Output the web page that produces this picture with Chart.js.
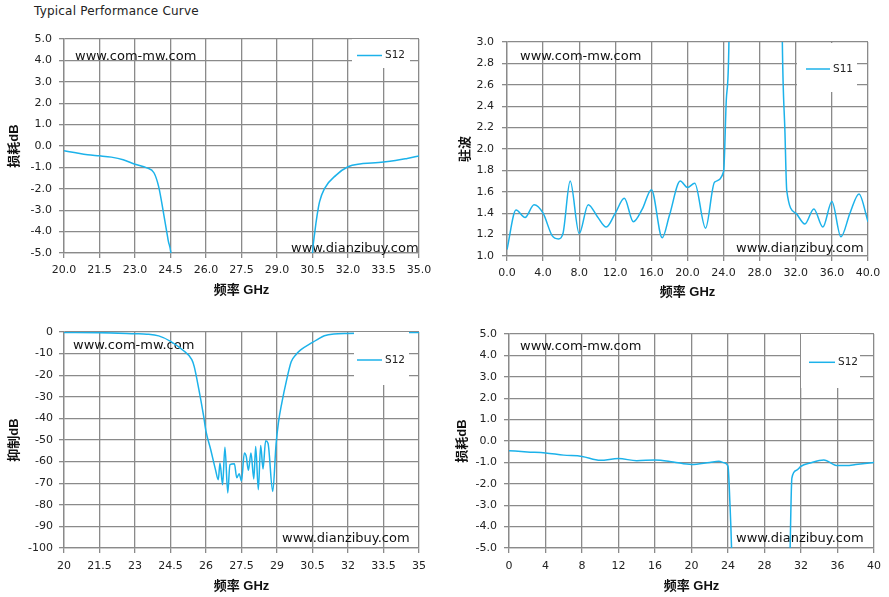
<!DOCTYPE html>
<html>
<head>
<meta charset="utf-8">
<script src="https://cdn.jsdelivr.net/npm/chart.js@4/dist/chart.umd.min.js"></script>
<style>
  body { margin: 0; background: #fff; width: 889px; height: 597px; position: relative; overflow: hidden; }
  canvas { position: absolute; }
  #title { position: absolute; left: 34px; top: 4px; font: 12px "DejaVu Sans", sans-serif; color: #222; letter-spacing: 0.2px; }
</style>
</head>
<body>
<div id="title">Typical Performance Curve</div>
<canvas id="c1" width="440" height="270" style="left:0;top:30px"></canvas>
<canvas id="c2" width="444" height="270" style="left:445px;top:30px"></canvas>
<canvas id="c3" width="440" height="297" style="left:0;top:300px"></canvas>
<canvas id="c4" width="444" height="297" style="left:445px;top:300px"></canvas>
<script>
// --- data ---
// top-left: S12 loss, 20-35 GHz
const lossAFreq = [20.0, 20.5, 21.0, 21.5, 22.0, 22.5, 23.0, 23.5, 23.8, 24.0, 24.2, 24.4, 24.55, 24.8, 30.2, 30.5, 30.6, 30.7, 30.8, 31.0, 31.5, 32.0, 32.5, 33.0, 33.5, 34.0, 34.5, 35.0];
const lossAS12  = [-0.22, -0.32, -0.41, -0.46, -0.52, -0.64, -0.85, -1.02, -1.25, -1.9, -3.1, -4.4, -5.4, -12, -12, -5.0, -4.0, -3.2, -2.6, -2.0, -1.36, -0.97, -0.84, -0.8, -0.75, -0.68, -0.58, -0.47];
const lossAXTicks = ['20.0', '21.5', '23.0', '24.5', '26.0', '27.5', '29.0', '30.5', '32.0', '33.5', '35.0'];
const lossAYTicks = ['-5.0', '-4.0', '-3.0', '-2.0', '-1.0', '0.0', '1.0', '2.0', '3.0', '4.0', '5.0'];

// top-right: S11 VSWR, 0-40 GHz
const vswrFreq = [0, 1, 2, 3, 4, 5, 5.7, 6.2, 7, 8, 9, 10, 11, 12, 13, 14, 15, 16, 17.2, 18, 19.2, 20, 20.8, 22, 23, 24, 24.3, 24.6, 25, 30, 30.5, 30.8, 31, 32, 33, 34, 35, 36, 37, 38, 39, 40];
const vswrS11  = [1.06, 1.43, 1.36, 1.48, 1.40, 1.19, 1.16, 1.21, 1.70, 1.21, 1.48, 1.37, 1.27, 1.40, 1.54, 1.32, 1.44, 1.62, 1.17, 1.38, 1.70, 1.64, 1.68, 1.26, 1.69, 1.79, 2.46, 3.05, 8, 8, 3.05, 2.15, 1.61, 1.40, 1.30, 1.44, 1.27, 1.51, 1.18, 1.40, 1.58, 1.32];
const vswrXTicks = ['0.0', '4.0', '8.0', '12.0', '16.0', '20.0', '24.0', '28.0', '32.0', '36.0', '40.0'];
const vswrYTicks = ['1.0', '1.2', '1.4', '1.6', '1.8', '2.0', '2.2', '2.4', '2.6', '2.8', '3.0'];

// bottom-left: S12 rejection, 20-35 GHz
const rejFreq = [20, 21.5, 23, 23.5, 24, 24.5, 25, 25.4, 25.5, 25.7, 25.9, 26.0, 26.2, 26.4, 26.52, 26.59, 26.7, 26.8, 26.92, 27.01, 27.2, 27.3, 27.4, 27.5, 27.62, 27.7, 27.79, 27.9, 28.02, 28.1, 28.21, 28.31, 28.41, 28.52, 28.62, 28.82, 28.96, 29.06, 29.2, 29.4, 29.6, 29.8, 30.0, 30.5, 30.7, 31.0, 31.4, 32.0, 33.5, 35];
const rejS12  = [-0.2, -0.3, -0.8, -1.0, -1.8, -4.3, -8.2, -12.8, -15.9, -26.7, -39, -46, -54.5, -63.7, -68.4, -60.6, -70.7, -53.3, -74.5, -61.4, -61, -67.5, -65.6, -69, -56, -57.6, -64, -56, -68, -53, -73, -52.5, -63.4, -50.4, -51.5, -73.8, -52, -42, -33, -22.5, -13.8, -10.5, -8.3, -4.8, -3.5, -1.7, -0.9, -0.7, -0.4, -0.2];
const rejXTicks = ['20', '21.5', '23', '24.5', '26', '27.5', '29', '30.5', '32', '33.5', '35'];
const rejYTicks = ['-100', '-90', '-80', '-70', '-60', '-50', '-40', '-30', '-20', '-10', '0'];

// bottom-right: S12 loss, 0-40 GHz
const lossBFreq = [0, 2, 4, 6, 8, 10, 12, 14, 16, 18, 20, 22, 23, 23.6, 24, 24.2, 24.4, 24.6, 30.6, 30.8, 31, 31.5, 32, 33, 34.5, 36, 37, 38, 40];
const lossBS12  = [-0.45, -0.51, -0.56, -0.66, -0.72, -0.9, -0.82, -0.92, -0.89, -0.98, -1.1, -1.0, -0.95, -1.02, -1.18, -2.8, -5.2, -10, -10, -5.2, -1.73, -1.37, -1.18, -1.03, -0.89, -1.15, -1.15, -1.1, -1.0];
const lossBXTicks = ['0', '4', '8', '12', '16', '20', '24', '28', '32', '36', '40'];
const lossBYTicks = lossAYTicks;

const LINE = '#1cb2ea';
const GRID = '#8a8a8a';
const TXT = '#222';
const TICK_FONT = { family: '"DejaVu Sans", sans-serif', size: 11 };
const TITLE_FONT = { family: '"Liberation Sans", "Noto Sans CJK SC", sans-serif', size: 13, weight: 'bold' };

// watermarks + boxed legend, drawn by hand like the Excel original
const overlay = {
  id: 'overlay',
  beforeDatasetsDraw(chart, args, o) {
    const ctx = chart.ctx;
    ctx.save();
    ctx.font = '13px "DejaVu Sans", sans-serif';
    ctx.fillStyle = '#111';
    ctx.textBaseline = 'middle';
    o.marks.forEach(m => ctx.fillText(m[2], m[0], m[1]));
    ctx.restore();
  },
  afterDatasetsDraw(chart, args, o) {
    const ctx = chart.ctx;
    const ds = chart.data.datasets[0];
    ctx.save();
    ctx.fillStyle = '#fff';
    ctx.fillRect(o.box[0], o.box[1], o.box[2], o.box[3]);
    ctx.strokeStyle = ds.borderColor;
    ctx.lineWidth = 1.5;
    ctx.beginPath();
    ctx.moveTo(o.line[0], o.line[2]);
    ctx.lineTo(o.line[1], o.line[2]);
    ctx.stroke();
    ctx.font = '10.5px "DejaVu Sans", sans-serif';
    ctx.fillStyle = TXT;
    ctx.textBaseline = 'middle';
    ctx.fillText(ds.label, o.line[1] + 3, o.line[2]);
    ctx.restore();
  }
};

function axis(ticks, c) {
  return {
    type: 'linear',
    min: Number(ticks[0]),
    max: Number(ticks[ticks.length - 1]),
    afterBuildTicks: s => { s.ticks = ticks.map(t => ({ value: Number(t) })); },
    afterFit: s => {
      // let layout.padding alone place the plot area
      s.paddingTop = s.paddingBottom = s.paddingLeft = s.paddingRight = 0;
      if (c.w) s.width = c.w;
      if (c.h) s.height = c.h;
    },
    ticks: { callback: (v, i) => ticks[i], autoSkip: false, maxRotation: 0, padding: c.pad, font: TICK_FONT, color: TXT },
    grid: { color: GRID, lineWidth: 1.3, tickLength: 5 },
    border: { color: GRID, width: 1.3 },
    title: { display: true, text: c.title, font: TITLE_FONT, color: '#111', padding: c.tpad }
  };
}

function makeChart(id, label, freq, vals, xTicks, yTicks, c) {
  new Chart(document.getElementById(id), {
    type: 'line',
    data: {
      datasets: [{
        label: label,
        data: freq.map((f, i) => ({ x: f, y: vals[i] })),
        borderColor: LINE,
        borderWidth: 1.5,
        pointRadius: 0,
        cubicInterpolationMode: 'monotone',
        fill: false
      }]
    },
    options: {
      responsive: false,
      animation: false,
      layout: { padding: { top: c.top, right: c.right, bottom: 0, left: 0 } },
      plugins: { legend: { display: false }, tooltip: { enabled: false }, overlay: c.overlay },
      scales: {
        x: axis(xTicks, { h: c.xh, pad: c.xpad, title: '频率 GHz', tpad: { top: 0, bottom: c.xtpad } }),
        y: axis(yTicks, { w: c.yw, pad: c.ypad, title: c.ytitle, tpad: { top: c.ytpad, bottom: 0 } })
      }
    },
    plugins: [overlay]
  });
}

makeChart('c1', 'S12', lossAFreq, lossAS12, lossAXTicks, lossAYTicks, {
  top: 9, right: 21, xh: 47, yw: 64, xpad: 6, ypad: 7, xtpad: 2, ytpad: 7, ytitle: '损耗dB',
  overlay: { marks: [[75, 26.7, 'www.com-mw.com'], [291, 218.3, 'www.dianzibuy.com']], box: [352, 9, 58, 29], line: [357, 382, 25.5] }
});
makeChart('c2', 'S11', vswrFreq, vswrS11, vswrXTicks, vswrYTicks, {
  top: 12, right: 21, xh: 44, yw: 62, xpad: 6, ypad: 8, xtpad: 0, ytpad: 13, ytitle: '驻波',
  overlay: { marks: [[75, 26.7, 'www.com-mw.com'], [291, 218.3, 'www.dianzibuy.com']], box: [352, 13, 60, 49], line: [361, 385, 39] }
});
makeChart('c3', 'S12', rejFreq, rejS12, rejXTicks, rejYTicks, {
  top: 32, right: 21, xh: 49, yw: 64, xpad: 7, ypad: 6, xtpad: 3, ytpad: 7, ytitle: '抑制dB',
  overlay: { marks: [[73, 45.7, 'www.com-mw.com'], [282, 239, 'www.dianzibuy.com']], box: [354, 32, 55, 53], line: [357, 382, 60] }
});
makeChart('c4', 'S12', lossBFreq, lossBS12, lossBXTicks, lossBYTicks, {
  top: 34, right: 15, xh: 49, yw: 64, xpad: 7, ypad: 7, xtpad: 3, ytpad: 10, ytitle: '损耗dB',
  overlay: { marks: [[75, 46.7, 'www.com-mw.com'], [291, 239, 'www.dianzibuy.com']], box: [356, 34, 59, 54], line: [364, 390, 62.3] }
});
</script>
</body>
</html>
